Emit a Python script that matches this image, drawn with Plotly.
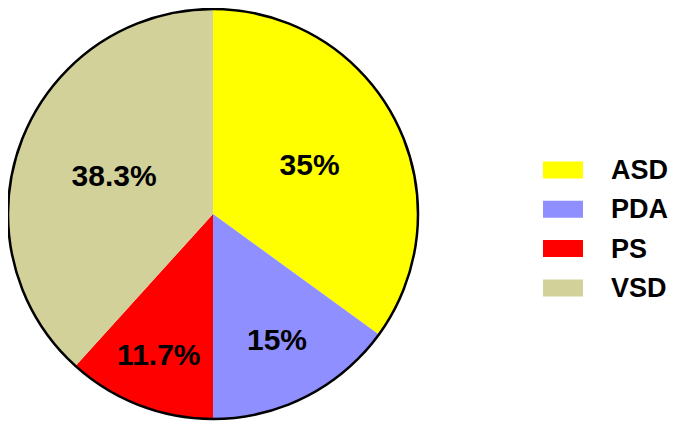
import plotly.graph_objects as go

labels = ["ASD", "PDA", "PS", "VSD"]
values = [35, 15, 11.7, 38.3]
text_labels = ["35%", "15%", "11.7%", "38.3%"]
colors = ["#FFFF00", "#8F8FFF", "#FF0000", "#D3D19A"]

W, H = 685, 432
OFF = 8  # page body margin
cx, cy = 213 - OFF, 214 - OFF  # pixels from top-left of figure
r = cx  # limited by left edge

x0 = (cx - r) / W
x1 = (cx + r) / W
y0 = (H - cy - r) / H
y1 = (H - cy + r) / H

fig = go.Figure()
fig.add_trace(go.Pie(
    labels=labels,
    values=values,
    text=text_labels,
    textinfo="text",
    textposition="inside",
    insidetextorientation="horizontal",
    textfont=dict(family="Liberation Sans, Arial, sans-serif", size=30, color="black", weight="bold"),
    marker=dict(colors=colors, line=dict(width=0)),
    sort=False,
    direction="clockwise",
    rotation=0,
    domain=dict(x=[x0, x1], y=[y0, y1]),
    showlegend=False,
    hoverinfo="label+percent",
))

shapes = [dict(type="circle", xref="paper", yref="paper", x0=x0, x1=x1, y0=y0, y1=y1,
               line=dict(color="black", width=2.5))]
annotations = []
lx0, lx1, ltx = (543 - OFF) / W, (583 - OFF) / W, (609 - OFF) / W
row_top = 170 - OFF
row_step = 39.3
for i, (lab, col) in enumerate(zip(labels, colors)):
    yc = (H - (row_top + i * row_step)) / H
    shapes.append(dict(type="rect", xref="paper", yref="paper", x0=lx0, x1=lx1,
                       y0=yc - 8.5 / H, y1=yc + 8.5 / H, fillcolor=col, line=dict(width=0)))
    annotations.append(dict(xref="paper", yref="paper", x=ltx, y=yc, text=lab,
                            showarrow=False, xanchor="left", yanchor="middle",
                            font=dict(family="Liberation Sans, Arial, sans-serif", size=27,
                                      color="black", weight="bold")))

fig.update_layout(
    width=W, height=H,
    margin=dict(l=0, r=0, t=0, b=0),
    paper_bgcolor="white",
    plot_bgcolor="white",
    shapes=shapes,
    annotations=annotations,
)

fig.write_html("out.html")
